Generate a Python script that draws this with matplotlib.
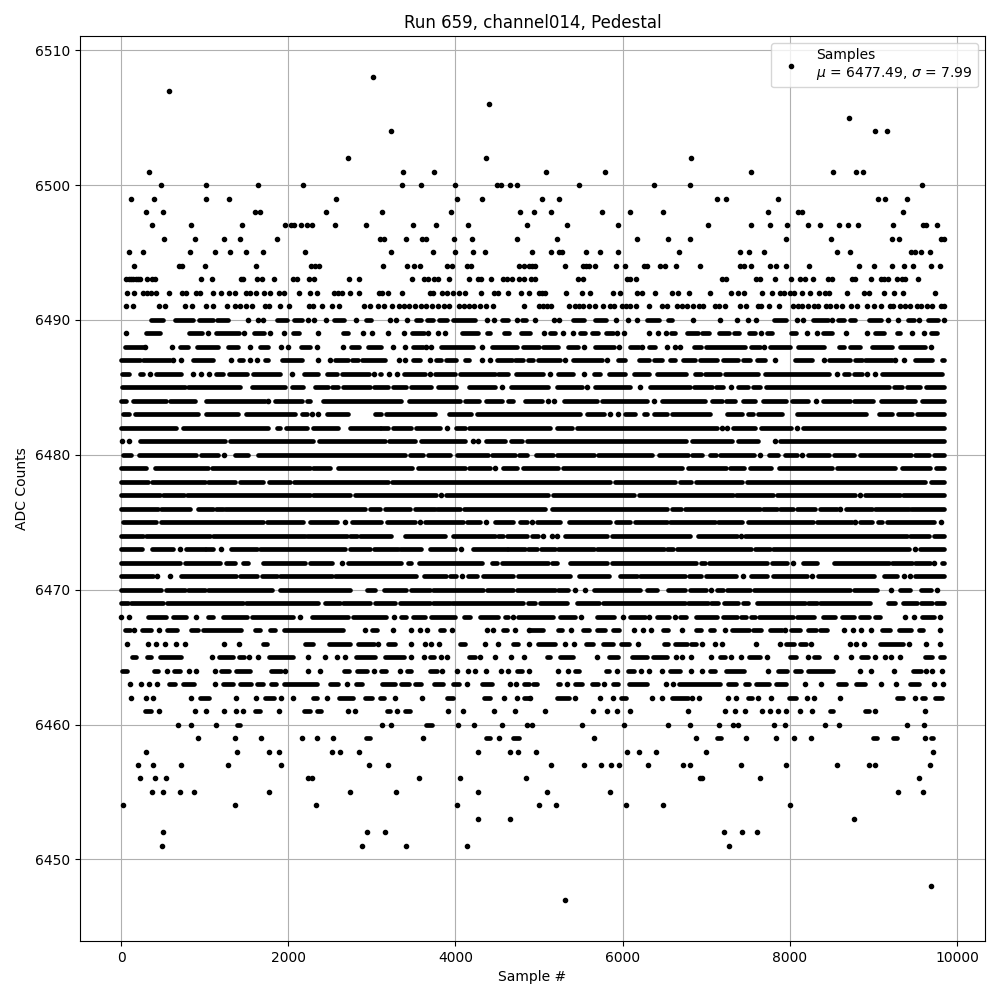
import matplotlib
matplotlib.use('Agg')
import matplotlib.pyplot as plt

# Values, one list per ADC level.
# int = single sample #, tuple = a run of samples that overlap into a solid bar
# (the dense rows can't be separated into individual samples by eye)
row_6508 = [3008]
row_6507 = [572]
row_6506 = [4400]
row_6505 = [8708]
row_6504 = [3224, 9020, 9164]
row_6502 = [2720, 4364, 6824]
row_6501 = [332, 3368, 3740, 5084, 5792, 7532, 8516, 8792, 8876]
row_6500 = [476, 1016, 1640, 2180, 3356, 3584, 3992, 4496, 4544, 4652, 4740, 5480, 6380, 6812, 9584]
row_6499 = [116, 392, 1016, 1292, 2576, 4016, 4316, 5036, 5240, 7124, 7232, 7856, 9056, 9140, 9404]
row_6498 = [296, 500, 1604, 1664, 2456, 3116, 3944, 4772, 4940, 5144, 5756, 6092, 6488, 7736, 8096, 8144, 9356]
row_6497 = [368, 836, 1448, 1964, 2032, 2064, 2156, 2228, 2288, 2564, 2924, 3488, 3764, 4148, 4856, 5336, 5948,
            7016, 7532, 7760, 7964, 8216, 8360, 8588, 8696, 8816, 9236, 9596, 9632, 9764]
row_6496 = [512, 884, 1232, 1424, 1868, 3092, 3140, 3404, 3596, 3644, 3980, 4196, 4736, 5216, 6176, 6548, 6812,
            7952, 8492, 9224, 9308, 9812, 9844]
row_6495 = [92, 260, 824, 1124, 1304, 1496, 1700, 2204, 3224, 3728, 3992, 4208, 4352, 4916, 5144, 5240, 5276,
            5564, 5732, 5948, 6680, 7400, 7508, 7688, 8564, 8720, 9452, 9500, 9572, 9680]
row_6494 = [152, 692, 728, 1004, 1616, 2276, 2324, 2372, 3128, 3416, 3500, 3572, 3896, 3956, 4136, 4184, 4760,
            4820, 4880, 4916, 4952, 5312, 5528, 5564, 5600, 5672, 5924, 6032, 6260, 6296, 6452, 6512, 6644, 6932,
            7400, 7448, 7532, 7760, 7832, 7952, 8228, 8828, 9008, 9224, 9368, 9476, 9692, 9800]
row_6493 = [60, 92, 116, 140, 172, 204, 228, 312, 372, 404, 956, 1088, 1436, 1464, 1628, 1688, 1832, 2060, 2108,
            2252, 2312, 2732, 2852, 3476, 3620, 3668, 3748, 3796, 3920, 4160, 4268, 4300, 4424, 4568, 4616, 4676,
            4760, 4820, 4904, 4952, 5468, 5528, 6056, 6092, 6164, 7184, 7232, 7592, 7640, 7820, 8012, 8120, 8180,
            8276, 8456, 8504, 8744, 8780, 8972, 9092, 9128, 9176, 9284, 9344, 9380, 9536]
row_6492 = [68, 152, 260, 308, 356, 416, 572, 728, 776, 896, 944, 1100, 1196, 1292, 1364, 1496, 1544, 1616, 1712,
            1784, 1892, 1952, 2132, 2264, 2348, 2552, 2600, 2648, 2744, 2852, 3080, 3116, 3188, 3356, 3692, 3728,
            3836, 3896, 3968, 4040, 4112, 4304, 4460, 4508, 4628, 4784, 4880, 5000, 5036, 5072, 5324, 5516, 5612,
            5888, 5972, 6176, 6236, 6392, 6596, 6668, 6800, 7040, 7292, 7376, 7448, 7664, 7784, 7880, 7928, 8000,
            8048, 8144, 8240, 8348, 8420, 8468, 8684, 8888, 8948, 9128, 9248, 9356, 9740]
row_6491 = [56, 140, 452, 524, 764, 848, 1016, 1100, 1268, 1364, 1424, 1496, 1568, 1724, 1772, 1904, 2012, 2252,
            2300, 2408, 2528, 2612, 2900, 2972, 3068, 3140, 3236, 3320, 3380, 3440, 3512, 3584, 3644, 3716, 3788,
            3860, 3920, 4040, 4100, 4160, 4220, 4292, 4364, 4448, 4820, 5000, 5048, 5096, 5144, 5360, 5432, 5480,
            5528, 5600, 5672, 5768, 5852, 5900, 5996, 6044, 6092, 6164, 6320, 6476, 6536, 6656, 6716, 6776, 6848,
            6920, 6968, 7100, 7148, 7220, 7400, 7472, 7616, 7652, 7748, 7868, 8036, 8096, 8144, 8216, 8288, 8336,
            8432, 8480, 8552, 8624, 8732, 8804, 8924, 9008, 9092, 9200, 9236, 9320, 9380, 9440, 9524, 9572, 9644,
            9704, 9812, 9844]
row_6490 = [(356, 500), (644, 860), (932, 1100), (1148, 1280), 1520, 1640, 1700, (1868, 1988), (2072, 2168), 2240,
            2312, 2456, (2552, 2672), 2816, (2924, 2984), 3212, 3284, 3416, (3524, 3584), (3656, 3728), (3800, 3896),
            (3968, 4232), 4376, 4460, (4556, 4628), 4736, (4796, 4844), 4952, 5180, 5240, (5408, 5540), (5672, 5804),
            5924, 6068, 6176, (6296, 6440), (6548, 6596), 6848, 7160, 7364, 7496, 7600, (7808, 7952), 8084, 8156,
            (8276, 8456), 8504, (8576, 8648), (8720, 8780), (8948, 9092), 9176, 9296, (9416, 9488), 9548,
            (9656, 9776), 9844]
row_6489 = [56, (296, 464), (812, 968), 1040, (1136, 1412), 1472, (1592, 1712), 1784, 1952, (2060, 2132), 2356,
            (2660, 2720), 2888, 2996, 3188, 3380, (3476, 3620), 3668, 3788, 3872, (4076, 4268), (4376, 4412),
            (4580, 4640), (4784, 4892), 5060, (5132, 5192), 5288, 5408, (5492, 5552), (5636, 5708), (5804, 5888),
            5936, 6020, 6320, 6428, 6524, (6584, 6632), (6776, 6908), (6956, 7028), (7148, 7268), (7328, 7388),
            (7508, 7580), 7652, (7724, 7784), (8012, 8072), 8204, 8324, (8396, 8504), 8668, 8924, (9020, 9128),
            (9284, 9320), 9464, 9608, (9692, 9764)]
row_6488 = [(44, 260), 284, 608, (704, 800), (908, 1160), (1280, 1400), 1544, (1664, 1760), 1916, 2000,
            (2156, 2264), 2348, 2660, (2756, 2852), (2948, 3104), 3252, 3392, (3492, 3612), 3652, 3712, (3832, 4212),
            4312, (4432, 4732), (4812, 5004), (5052, 5232), (5352, 5472), 5544, (5672, 5892), 5952, (6092, 6192),
            6232, (6312, 6392), 6532, 6632, 6684, (6852, 6944), (6996, 7464), (7532, 7644), 7696, (7764, 8004),
            (8104, 8404), (8584, 8644), (8724, 8844), (8984, 9224), (9324, 9624), 9692]
row_6487 = [(0, 220), (260, 580), 620, 720, (860, 1100), 1320, (1412, 1460), 1540, 1628, (1720, 1760), (1920, 2160),
            2360, 2500, (2560, 2720), (2760, 2840), (2880, 3152), 3324, 3392, (3492, 3572), 3692, (3772, 3832),
            (3892, 4004), (4112, 4164), 4312, 4412, (4492, 4672), (4712, 4812), (4872, 4932), (4992, 5252), 5312,
            (5412, 5752), 5812, (5940, 6032), (6192, 6312), (6372, 6472), (6572, 6632), (6724, 6864), (6924, 7124),
            (7204, 7384), (7444, 7524), (7604, 7704), 7824, (8064, 8264), 8404, (8464, 8724), (8784, 8864),
            (8904, 9224), 9264, 9364, (9504, 9704), (9824, 9844)]
row_6486 = [(12, 100), (220, 260), 348, (420, 720), 860, 960, 1052, (1140, 1220), (1292, 1500), (1580, 1900), 2040,
            (2188, 2360), (2468, 2580), (2640, 2960), 3020, (3100, 3112), 3200, 3300, (3380, 3632), 3692,
            (3752, 3992), (4052, 4472), (4512, 4632), (4724, 5052), 5132, (5232, 5412), 5544, (5652, 5732),
            (5832, 6032), (6132, 6312), (6412, 6764), (6864, 6944), (6984, 7164), (7224, 7624), (7704, 8464), 8564,
            (8644, 8704), (8764, 8864), 8924, 9024, (9104, 9824)]
row_6485 = [(12, 760), (800, 1420), (1560, 1960), (2040, 2180), (2320, 2480), (2520, 2600), (2660, 2980),
            (3020, 3192), (3252, 3412), (3472, 3712), (3792, 4012), (4164, 4472), 4552, (4660, 5112), (5212, 5512),
            5572, (5672, 6092), 6212, (6332, 6804), (6852, 7064), (7116, 7204), 7292, (7384, 7504), (7564, 7644),
            (7716, 9184), (9244, 9344), (9404, 9564), (9636, 9844)]
row_6484 = [(0, 60), (140, 540), (580, 880), (1020, 1720), 1760, (1840, 2160), (2220, 2260), (2420, 3352),
            (3444, 4052), (4112, 4284), (4364, 4552), (4632, 4692), (4832, 5032), 5112, 5180, (5300, 5692),
            (5752, 6292), 6372, (6472, 6984), (7064, 7184), (7236, 7344), (7444, 7584), (7684, 7956), (8024, 8224),
            8316, (8396, 8724), (8764, 8996), (9096, 9504), (9584, 9844)]
row_6483 = [(20, 100), (160, 920), (1020, 1400), (1492, 2080), (2160, 2220), 2280, 2360, (2460, 2720), (3040, 3112),
            (3164, 3752), (3924, 4192), (4252, 5492), (5572, 5772), 5852, 5940, (6032, 6152), (6252, 6292),
            (6372, 6532), (6592, 7044), (7244, 7424), (7504, 7564), (7624, 7904), (8092, 8916), (9064, 9224),
            (9292, 9464), (9524, 9844)]
row_6482 = [(0, 660), (740, 1760), (1860, 1900), (1972, 2220), (2300, 2600), (2740, 3100), (3112, 3192),
            (3252, 3472), (3532, 3812), 3900, (4004, 4112), (4164, 5132), (5220, 5392), (5460, 7124), 7184, 7252,
            (7316, 7584), (7652, 8012), 8084, (8164, 9844)]
row_6481 = [12, 92, (228, 1240), (1300, 2300), (2372, 3152), (3204, 3512), (3592, 4112), 4212, 4272, (4364, 4592),
            (4660, 4792), (4852, 6764), (6836, 7304), (7384, 7624), 7824, (7884, 9844)]
row_6480 = [(28, 120), (212, 900), (960, 1160), 1232, (1360, 1520), (1640, 3392), (3460, 3612), (3672, 3932),
            (4020, 4392), (4432, 4712), (4764, 4852), (4964, 5172), (5220, 5652), (5700, 6352), (6432, 6784),
            (6836, 6956), (7044, 7116), (7164, 7572), 7644, (7756, 7864), (7944, 8084), 8144, (8224, 8464),
            (8532, 8772), (8844, 9452), (9504, 9664), (9724, 9844)]
row_6479 = [(0, 292), (400, 1040), (1092, 2260), (2300, 2500), (2600, 3484), (3552, 4112), (4164, 4412), 4472,
            (4564, 4732), (4804, 5232), (5292, 6716), (6784, 7236), (7284, 7452), (7524, 7772), (7872, 8504),
            (8564, 9264), (9344, 9684), (9744, 9844)]
row_6478 = [(0, 320), (372, 1000), (1040, 1360), (1420, 1700), (1772, 2020), (2068, 3192), (3244, 5852),
            (5912, 6632), (6684, 6824), (6876, 7424), (7484, 9624), (9692, 9844)]
row_6477 = [(0, 460), (500, 748), (788, 2260), (2300, 2740), (2800, 3772), 3824, (3892, 5112), (5164, 6132),
            (6192, 7324), (7356, 7804), (7844, 8784), 8836, (8904, 9324), (9356, 9844)]
row_6476 = [(0, 440), (480, 820), (920, 1100), (1140, 1220), (1248, 2920), (2980, 3100), (3152, 3452), (3512, 3752),
            (3780, 4052), (4100, 5072), (5152, 6532), (6592, 6704), (6744, 7644), (7676, 7844), (7884, 8044),
            (8084, 8304), (8356, 8564), 8596, (8676, 8984), (9024, 9424), (9452, 9844)]
row_6475 = [(20, 420), (480, 1700), (1740, 2172), (2260, 2588), 2680, (2760, 3104), (3180, 3512), 3572, (3632, 4092),
            (4140, 4292), 4364, (4472, 4692), (4772, 4852), 4912, (4980, 5252), (5364, 5852), (5924, 6092),
            (6152, 6532), (6564, 7104), (7144, 7424), (7504, 8284), (8332, 8744), 8784, (8844, 8984), (9052, 9104),
            (9164, 9724), 9812]
row_6474 = [(0, 260), (300, 1060), (1100, 2200), (2220, 2700), (2740, 2820), (2860, 3232), (3392, 3872), (3972, 4472),
            (4512, 4572), (4612, 4852), (4912, 4992), 5052, 5152, 5212, (5312, 5812), (5872, 6804), (6904, 7364),
            7412, (7464, 9404), (9444, 9664), (9724, 9844)]
row_6473 = [(0, 252), (372, 620), 700, (772, 1000), (1020, 1100), 1200, (1320, 1620), (1660, 2680), (2740, 2980),
            (3020, 3312), (3340, 3592), (3692, 3992), 4064, (4212, 4612), (4632, 4832), (4872, 4972), (5020, 5192),
            (5232, 5652), (5692, 6492), (6532, 6604), (6652, 7532), (7584, 7764), (7804, 9424), 9496, (9556, 9844)]
row_6472 = [(0, 700), (760, 1180), (1252, 1360), (1460, 1520), (1700, 2200), (2260, 2520), 2640, (2720, 3352),
            (3432, 3472), (3564, 4312), (4432, 4492), (4552, 5112), (5152, 5212), (5372, 5812), (5872, 6884),
            (6944, 6984), (7036, 7724), (7784, 7964), 8044, (8164, 8332), (8524, 9184), (9224, 9464), (9504, 9684),
            9724, (9824, 9844)]
row_6471 = [(0, 380), 428, 588, (720, 1380), (1428, 1620), (1680, 1860), (1900, 2520), (2560, 3532), (3620, 3892),
            (3940, 4012), 4084, (4152, 4252), (4332, 4692), (4752, 5372), (5484, 5832), (5972, 6172), (6212, 6744),
            (6796, 6944), (6996, 7356), 7444, (7532, 7724), (7804, 8212), 8264, (8344, 9004), (9132, 9284), 9364,
            9444, (9504, 9844)]
row_6470 = [(0, 480), (540, 760), (800, 1000), (1040, 1800), (1900, 2740), (2940, 3040), (3140, 3412), (3472, 3692),
            (3732, 4332), (4380, 4692), (4740, 5192), (5232, 5352), 5432, 5552, (5652, 6212), (6292, 6412),
            (6540, 6744), (6804, 6996), 7052, (7132, 7204), (7244, 7524), (7572, 8724), (8764, 9044), 9216,
            (9324, 9444), (9572, 9692), 9764]
row_6469 = [(0, 80), (120, 500), (548, 1460), (1492, 2360), (2440, 2620), (2660, 2980), (3040, 3272), (3332, 3692),
            (3732, 3932), (3964, 4812), (4872, 4952), (5012, 5332), (5452, 5712), (5764, 6744), (6784, 7024),
            (7052, 7144), (7212, 7384), (7444, 7504), (7604, 8184), (8224, 8324), (8364, 8964), (9172, 9264),
            (9356, 9524), (9572, 9704), (9744, 9844)]
row_6468 = [0, 100, (320, 540), (620, 780), 900, (1040, 1100), (1220, 1500), (1560, 2060), 2140, (2280, 2720),
            (2780, 3172), 3260, (3352, 3412), (3492, 3632), (3712, 3992), (4100, 4180), (4292, 4512), (4592, 4632),
            4692, (4752, 5172), (5252, 5432), 5500, (5692, 5892), 6004, (6092, 6272), 6312, (6412, 6552), 6632,
            (6684, 6764), (6876, 7124), (7204, 7364), (7412, 7476), (7532, 7584), (7636, 8044), (8092, 8292),
            (8396, 8544), (8624, 8764), (8844, 8944), (9024, 9084), 9376, 9484, (9584, 9724), 9796]
row_6467 = [(48, 108), 152, (248, 360), 452, (548, 668), (836, 920), (980, 1440), (1604, 1664), (1784, 1844),
            (1952, 2660), 2912, (2996, 3056), 3248, 3464, 3572, 3656, (3812, 3860), 3956, 4376, 4448, (4564, 4616),
            4712, 4880, (4888, 5048), (5228, 5276), 5384, (5528, 5600), (5696, 5792), (5888, 5960), 6140, 6248, 6344,
            (6488, 6548), 6716, (6884, 6944), (7040, 7088), 7220, (7304, 7508), (7556, 7652), (7760, 7904), 7940,
            (8012, 8120), (8216, 8312), (8360, 8444), 8648, 8756, 8852, 8972, (9104, 9200), (9308, 9452),
            (9548, 9596), 9800]
row_6466 = [68, 320, 416, 524, 656, 764, 1232, 1412, (1700, 1748), (2204, 2300), (2492, 2744), (2840, 3020), 3068,
            (3188, 3272), 3464, 3632, 3704, 3800, (4052, 4112), 4352, 4508, (4688, 4748), 4880, (4988, 5192), 5308,
            5420, (5564, 5648), (5768, 5888), (5984, 6080), 6188, (6500, 6548), (6632, 6776), (6824, 6884), 6956,
            7100, 7184, 7592, 7880, (7952, 8048), (8120, 8192), 8252, 8720, 8792, 8888, (9080, 9356), 9428, 9636,
            9792]
row_6465 = [(128, 176), (308, 356), (464, 716), 1088, (1172, 1340), (1412, 1472), 1532, 1640, (1772, 2060), 2240,
            2440, 2588, 2684, (2816, 3032), (3152, 3380), 3464, 3620, (3692, 3740), 3824, 3896, (4160, 4232), 4292,
            4472, 4664, 4820, (5096, 5132), (5252, 5408), 5696, (5840, 5948), (6116, 6296), (6368, 6536), 6644, 6716,
            6824, 7052, (7160, 7220), 7292, 7412, (7508, 7640), 7724, (8000, 8072), 8216, (8288, 8348), 8552, 8732,
            (8852, 8936), 9020, 9140, 9212, 9320, (9620, 9704), (9800, 9844)]
row_6464 = [(8, 68), (392, 440), 548, (632, 704), 812, 896, 1124, (1196, 1292), (1376, 1544), (1796, 1916), 1964,
            2240, 2384, (2672, 2732), (2828, 2936), 3020, (3104, 3164), 3332, (3416, 3464), (3692, 3776), 3836,
            4016, 4148, 4232, 4364, 4544, 4628, (4736, 4796), 4880, 5228, 5348, (5432, 5480), (5804, 5840), 5936,
            (6068, 6140), 6224, 6320, 6476, (6572, 6692), 6824, 6956, (7040, 7100), (7232, 7448), 7736,
            (7856, 7964), (8060, 8132), (8216, 8516), 8840, 8972, 9248, (9476, 9572), 9632, 9704, 9824]
row_6463 = [104, 236, 332, 428, (572, 644), (740, 872), 1124, (1220, 1340), (1424, 1556), (1628, 1700), (1796, 1856),
            (1952, 2348), (2504, 2600), 2708, (2816, 2876), (3116, 3272), (3344, 3440), (3512, 3584), (3740, 3848),
            (3968, 4040), 4136, (4316, 4436), 4652, 4724, (4820, 4880), (4928, 4976), (5228, 5252), 5336,
            (5432, 5516), (5636, 5708), 5780, (5888, 5948), (6080, 6288), 6524, 6608, (6680, 7160), (7256, 7352),
            (7460, 7508), (7592, 7748), (7832, 7952), 8180, 8372, (8576, 8672), (8792, 8900), 9092, 9272,
            (9440, 9548), 9728, 9836]
row_6462 = [116, 296, 380, 836, (944, 1052), 1376, 1616, (1724, 1832), 1916, 2060, (2300, 2348), 2464, (2612, 2780),
            (2912, 2996), (3092, 3140), 3272, 3596, (3896, 3968), (4340, 4412), 4580, 4736, (4820, 4880), 4888,
            (5216, 5360), 5432, 5732, 5888, (5984, 6044), 6356, 6476, (6596, 6788), 6836, 6920, 7256, 7352,
            (7496, 7544), 7616, 7772, (7988, 8072), 8204, 8288, 8600, (9284, 9356), 9500, (9584, 9620), (9740, 9824)]
row_6461 = [(284, 356), 452, 884, 1016, 1232, 1376, 1460, (1604, 1664), 1892, (2192, 2264), (2348, 2396), 2720, 2804,
            (3176, 3212), 3296, (3392, 3452), 3908, 4088, 4460, 4712, 5072, 5648, 5816, 5936, 6092, 6788, 7220, 7340,
            7460, 7664, 7760, 7856, 7952, 8120, 8264, (8480, 8516), (8900, 8948), 9020, 9620]
row_6460 = [680, 836, 1136, (1388, 1424), 3116, 3224, (3644, 3716), 4028, 4220, 4556, 4856, 4920, 5516, 6020, 6548,
            6812, 7148, 7316, 7376, 7808, 7940, 8420, 8588, 9404, 9608]
row_6459 = [920, 1364, 1676, 2168, 2348, 2540, (2924, 2972), 3608, (4364, 4412), 4520, (4688, 4760), 5660, 6884,
            (7124, 7172), 7472, 7832, 8048, 8252, (8996, 9044), (9236, 9284), 9620, (9692, 9716)]
row_6458 = [296, 1388, 1772, 1892, 2528, 2624, 2852, 4268, 4652, 4748, 4964, 6056, 6200, 6404, 6992, 9716]
row_6457 = [200, 380, 716, 1280, 1916, 2960, 3188, 5144, 5540, 5744, 5864, 5960, 6308, 6728, 6812, 7412, 7952, 8564,
            8948, 9020, 9680]
row_6456 = [224, 404, 536, 2240, 2288, 3560, 4052, 4844, 6932, 6956, 7640, 9548]
row_6455 = [368, 500, 704, 872, 1772, 2744, 3284, 4268, 5096, 5852, 9296, 9596]
row_6454 = [20, 1364, 2336, 4016, 5000, 5204, 6044, 6488, 8000]
row_6453 = [4268, 4652, 8768]
row_6452 = [500, 2936, 3152, 7208, 7424, 7604]
row_6451 = [488, 2876, 3404, 4136, 7268]
row_6448 = [9692]
row_6447 = [5312]

adc_rows = {
    6508: row_6508, 6507: row_6507, 6506: row_6506, 6505: row_6505, 6504: row_6504, 6502: row_6502,
    6501: row_6501, 6500: row_6500, 6499: row_6499, 6498: row_6498, 6497: row_6497, 6496: row_6496,
    6495: row_6495, 6494: row_6494, 6493: row_6493, 6492: row_6492, 6491: row_6491, 6490: row_6490,
    6489: row_6489, 6488: row_6488, 6487: row_6487, 6486: row_6486, 6485: row_6485, 6484: row_6484,
    6483: row_6483, 6482: row_6482, 6481: row_6481, 6480: row_6480, 6479: row_6479, 6478: row_6478,
    6477: row_6477, 6476: row_6476, 6475: row_6475, 6474: row_6474, 6473: row_6473, 6472: row_6472,
    6471: row_6471, 6470: row_6470, 6469: row_6469, 6468: row_6468, 6467: row_6467, 6466: row_6466,
    6465: row_6465, 6464: row_6464, 6463: row_6463, 6462: row_6462, 6461: row_6461, 6460: row_6460,
    6459: row_6459, 6458: row_6458, 6457: row_6457, 6456: row_6456, 6455: row_6455, 6454: row_6454,
    6453: row_6453, 6452: row_6452, 6451: row_6451, 6448: row_6448, 6447: row_6447,
}

mu = 6477.49
sigma = 7.99

sample_x = []
sample_y = []
run_y = []
run_start = []
run_end = []
for adc, row in adc_rows.items():
    for item in row:
        if isinstance(item, tuple):
            run_y.append(adc)
            run_start.append(item[0])
            run_end.append(item[1])
        else:
            sample_x.append(item)
            sample_y.append(adc)

fig, ax = plt.subplots(figsize=(10, 10), dpi=100)
ax.plot(sample_x, sample_y, 'k.', label='Samples\n$\\mu$ = %.2f, $\\sigma$ = %.2f' % (mu, sigma))
# solid bars a bit thinner than the '.' marker, the real rows are beaded
ax.hlines(run_y, run_start, run_end, colors='k', linewidth=3.4, capstyle='round', zorder=2)
ax.set_title('Run 659, channel014, Pedestal')
ax.set_xlabel('Sample #')
ax.set_ylabel('ADC Counts')
ax.grid(True)
ax.legend(loc='upper right')
fig.subplots_adjust(left=0.08, right=0.985, top=0.964, bottom=0.059)
fig.savefig('out.png')
